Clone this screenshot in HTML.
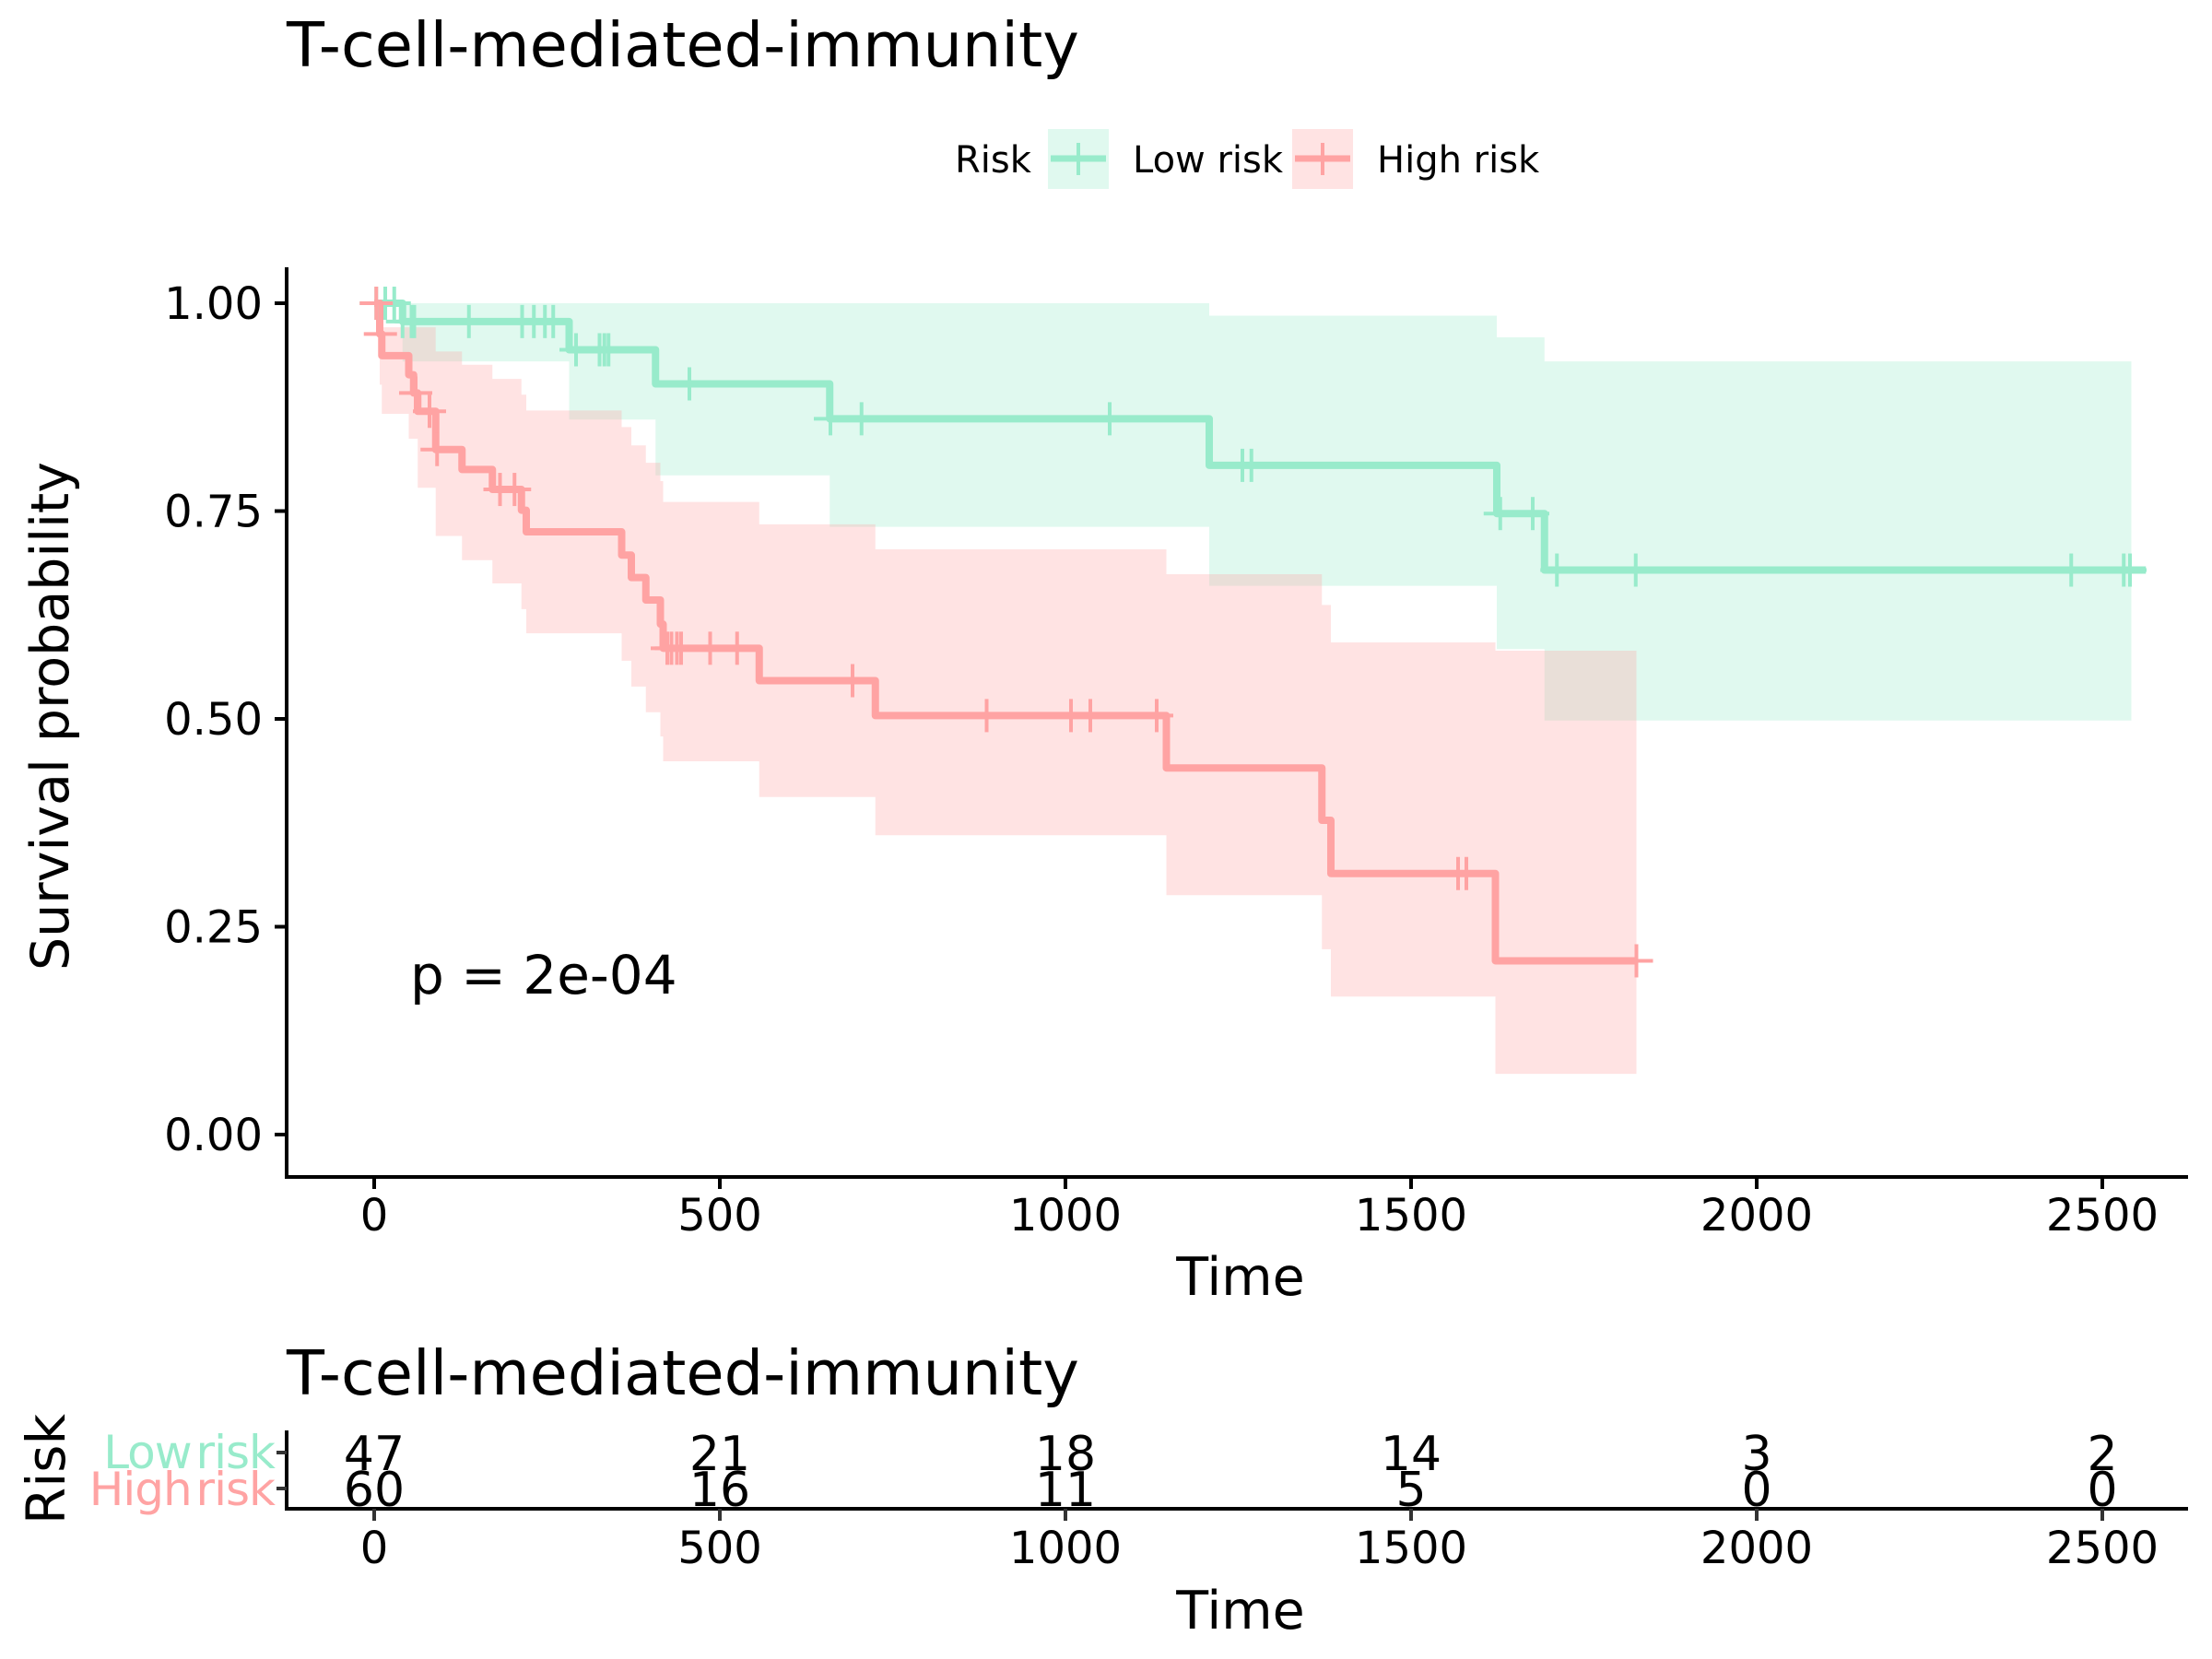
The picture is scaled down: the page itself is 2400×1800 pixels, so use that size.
<!DOCTYPE html>
<html><head><meta charset="utf-8"><style>
html,body{margin:0;padding:0;background:#fff;}
svg{display:block;font-family:"DejaVu Sans","Liberation Sans",sans-serif;}
</style></head><body>
<svg id="chart" width="2400" height="1800" viewBox="0 0 2400 1800" xmlns="http://www.w3.org/2000/svg">
<text x="311" y="72" font-size="67">T-cell-mediated-immunity</text>
<g>
<text x="1036" y="187" font-size="40">Risk</text>
<rect x="1137" y="140" width="66" height="65" fill="rgba(152,235,203,0.3)"/>
<line x1="1140" y1="172" x2="1200" y2="172" stroke="#98EBCB" stroke-width="7"/><line x1="1170" y1="155" x2="1170" y2="190" stroke="#98EBCB" stroke-width="4"/>
<text x="1229" y="187" font-size="40">Low risk</text>
<rect x="1402" y="140" width="66" height="65" fill="rgba(255,163,163,0.3)"/>
<line x1="1405" y1="172" x2="1465" y2="172" stroke="#FFA3A3" stroke-width="7"/><line x1="1435" y1="155" x2="1435" y2="190" stroke="#FFA3A3" stroke-width="4"/>
<text x="1494" y="187" font-size="40">High risk</text>
</g>
<g id="bands"></g><g id="lines"></g><g id="censors"></g>
<g id="axes"></g>
<text x="445" y="1078" font-size="58">p = 2e-04</text>
<text transform="translate(74,777) rotate(-90)" text-anchor="middle" font-size="57">Survival probability</text>
<text x="1346" y="1405" text-anchor="middle" font-size="57">Time</text>
<text x="311" y="1513" font-size="67">T-cell-mediated-immunity</text>
<text transform="translate(70,1594) rotate(-90)" text-anchor="middle" font-size="58">Risk</text>
<text x="298" y="1593" text-anchor="end" font-size="50" fill="#98EBCB" letter-spacing="-1" word-spacing="-10">Low risk</text>
<text x="298" y="1633" text-anchor="end" font-size="50" fill="#FFA3A3" letter-spacing="-1" word-spacing="-10">High risk</text>
<g id="table"></g>
<text x="1346" y="1767" text-anchor="middle" font-size="57">Time</text>
</svg>
<script>
const xTicks=[0,500,1000,1500,2000,2500];
const yTicks=[0,0.25,0.5,0.75,1];
const yTickLabels=["0.00","0.25","0.50","0.75","1.00"];
const lowTimes=[0,41,282,407,659,1208,1624,1693];
const lowSurv=[1,0.978,0.944,0.903,0.861,0.805,0.747,0.679];
const lowUpper=[1,1,1,1,1,0.985,0.959,0.93];
const lowLower=[1,0.93,0.86,0.793,0.731,0.66,0.584,0.498];
const lowEnd=2563;
const lowBandEnd=2542;
const lowCensor=[3,16,29,41,54,58,137,214,231,247,259,292,326,333,339,456,660,705,1064,1256,1269,1629,1676,1711,1825,2455,2531,2540];
const highTimes=[0,8,11,50,57,63,89,127,171,213,220,358,372,393,414,418,557,725,1146,1371,1384,1622];
const highSurv=[1,0.963,0.937,0.914,0.892,0.870,0.824,0.800,0.776,0.751,0.725,0.697,0.670,0.643,0.614,0.585,0.546,0.504,0.441,0.378,0.314,0.209];
const highUpper=[1,1,0.971,0.971,0.971,0.971,0.942,0.926,0.909,0.890,0.871,0.851,0.829,0.808,0.786,0.761,0.734,0.704,0.674,0.637,0.592,0.582];
const highLower=[1,0.902,0.867,0.837,0.837,0.778,0.720,0.691,0.663,0.632,0.603,0.570,0.539,0.508,0.479,0.449,0.406,0.360,0.288,0.223,0.166,0.073];
const highEnd=1826;
const highCensor=[3,9,60,80,91,182,203,424,430,438,444,486,525,692,886,1008,1036,1132,1568,1580,1826];
const riskLow=[47,21,18,14,3,2];
const riskHigh=[60,16,11,5,0,0];

const NS="http://www.w3.org/2000/svg";
const X=t=>406+0.75*t;
const Y=s=>1231-902*s;
const TY=r=>r===0?1576:1615;
function el(tag,attrs,parent){const e=document.createElementNS(NS,tag);for(const k in attrs)e.setAttribute(k,attrs[k]);parent.appendChild(e);return e;}
function stepPath(times,vals,end){let d="M"+X(times[0])+","+Y(vals[0]);for(let i=1;i<times.length;i++){d+=" H"+X(times[i])+" V"+Y(vals[i]);}d+=" H"+X(end);return d;}
function bandPath(times,up,lo,end){let d="M"+X(times[0])+","+Y(up[0]);for(let i=1;i<times.length;i++){d+=" H"+X(times[i])+" V"+Y(up[i]);}d+=" H"+X(end)+" V"+Y(lo[lo.length-1]);for(let i=times.length-1;i>=1;i--){d+=" H"+X(times[i])+" V"+Y(lo[i-1]);}d+=" H"+X(times[0])+" Z";return d;}
function survAt(times,vals,t){let v=vals[0];for(let i=0;i<times.length;i++){if(times[i]<=t)v=vals[i];}return v;}
const bands=document.getElementById('bands'),lines=document.getElementById('lines'),cens=document.getElementById('censors'),axes=document.getElementById('axes'),table=document.getElementById('table');
let b=el('path',{d:bandPath(lowTimes,lowUpper,lowLower,lowBandEnd),fill:'rgb(152,235,203)','fill-opacity':0.3},bands);


b=el('path',{d:bandPath(highTimes,highUpper,highLower,highEnd),fill:'rgb(255,163,163)','fill-opacity':0.3},bands);


let l=el('path',{d:stepPath(lowTimes,lowSurv,lowEnd),fill:'none',stroke:'#98EBCB','stroke-width':8,'stroke-linejoin':'round'},lines);


l=el('path',{d:stepPath(highTimes,highSurv,highEnd),fill:'none',stroke:'#FFA3A3','stroke-width':8,'stroke-linejoin':'round'},lines);


function censor(t,s,color,name){const g=el('g',{stroke:color,'stroke-width':4},cens);


el('line',{x1:X(t),y1:Y(s)-18,x2:X(t),y2:Y(s)+18},g);el('line',{x1:X(t)-18,y1:Y(s),x2:X(t)+18,y2:Y(s)},g);}
lowCensor.forEach(t=>censor(t,survAt(lowTimes,lowSurv,t),'#98EBCB','low-risk-censor-mark'));
highCensor.forEach(t=>censor(t,survAt(highTimes,highSurv,t),'#FFA3A3','high-risk-censor-mark'));
let a=el('path',{d:'M311,290 V1277 H2374',fill:'none',stroke:'#000','stroke-width':4},axes);


yTicks.forEach((v,i)=>{el('line',{x1:298,y1:Y(v),x2:311,y2:Y(v),stroke:'#000','stroke-width':4},axes);
const t=el('text',{x:285,y:Y(v)+17,'text-anchor':'end','font-size':48},axes);t.textContent=yTickLabels[i];

});
xTicks.forEach(v=>{el('line',{x1:X(v),y1:1277,x2:X(v),y2:1290,stroke:'#000','stroke-width':4},axes);
const t=el('text',{x:X(v),y:1335,'text-anchor':'middle','font-size':48},axes);t.textContent=v;

});
let ta=el('path',{d:'M311,1552 V1637 H2374',fill:'none',stroke:'#000','stroke-width':4},table);


[0,1].forEach(r=>el('line',{x1:300,y1:TY(r),x2:311,y2:TY(r),stroke:'#333','stroke-width':4},table));
xTicks.forEach((v,i)=>{el('line',{x1:X(v),y1:1637,x2:X(v),y2:1650,stroke:'#333','stroke-width':4},table);
const t=el('text',{x:X(v),y:1696,'text-anchor':'middle','font-size':48},table);t.textContent=v;


const n1=el('text',{x:X(v),y:TY(0)+19,'text-anchor':'middle','font-size':52},table);n1.textContent=riskLow[i];


const n2=el('text',{x:X(v),y:TY(1)+19,'text-anchor':'middle','font-size':52},table);n2.textContent=riskHigh[i];

});
</script>
</body></html>
